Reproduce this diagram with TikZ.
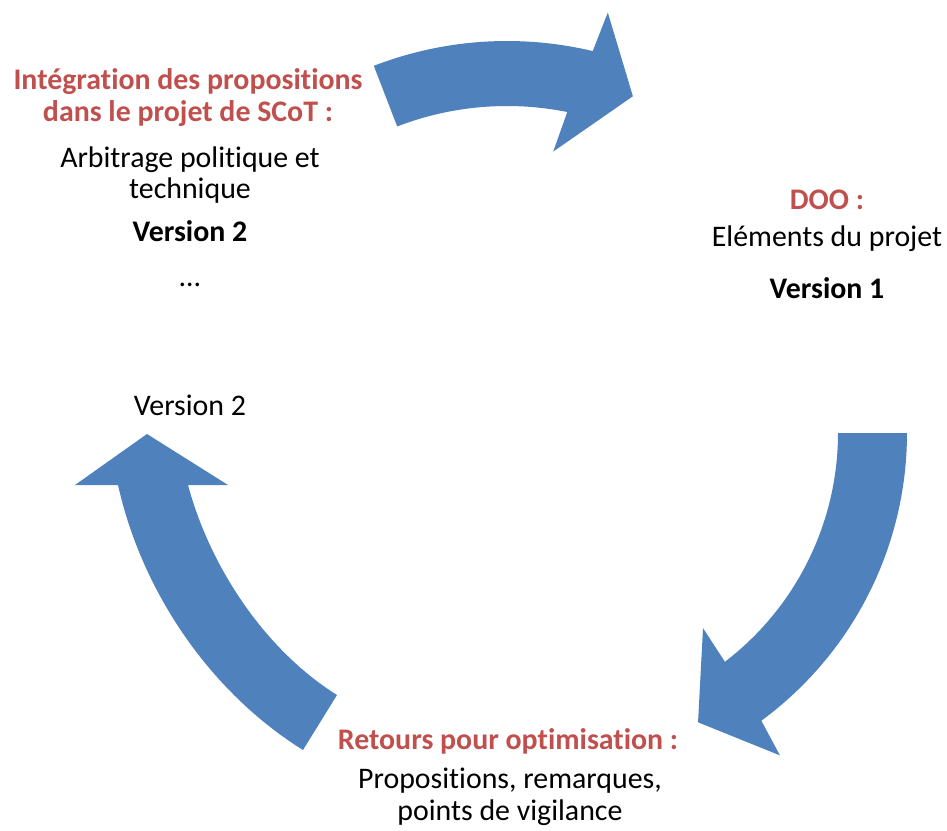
\documentclass[tikz,border=0pt]{standalone}
\usepackage{fontspec}
\setmainfont[Ligatures = NoCommon]{Carlito}
\definecolor{bleu}{HTML}{4F81BD}
\definecolor{rouge}{HTML}{C0504D}
\newcommand{\taille}{\fontsize{17pt}{20pt}\selectfont}

\begin{document}
\begin{tikzpicture}[x = 0.02cm, y = -0.02cm, fleche/.style = {fill = bleu},
	corps/.style = {anchor = base, inner sep = 0pt, font = \taille},
	gras/.style = {corps, font = \taille\bfseries},
	titre/.style = {gras, text = rouge}]
				\useasboundingbox (0,0) rectangle (947,831);
				\begin{scope}[shift = {(507,411)}]
					\fill[fleche] (248.9:305) -- (248.9:370) arc[start angle = 248.9, end angle = 283.4, radius = 370] -- (284.2:411) -- (291.8:339) -- (280.1:263.5) -- (281.4:305) arc[start angle = 281.4, end angle = 248.9, radius = 305] -- cycle;
				\end{scope}
				\begin{scope}[shift = {(550,433)}]
					\fill[fleche] (0:288) -- (0:357) arc[start angle = 0, end angle = 53.7, radius = 357] -- (54.5:396) -- (62.9:325) -- (51.9:248) -- (52.6:288) arc[start angle = 52.6, end angle = 0, radius = 288] -- cycle;
				\end{scope}
				\fill[fleche] (75,485) -- (147,434) -- (228,485) -- (188,485) .. controls (210,567) and (265,650) .. (337,695) -- (303,750) .. controls (210,692) and (142,592) .. (118,485) -- cycle;
				\node[titre] (integA) at (188,90) {Intégration des propositions};
				\node[titre] (integB) at (188,122) {dans le projet de SCoT :};
				\node[corps] (arbitA) at (190,168) {Arbitrage politique et};
				\node[corps] (arbitB) at (190,199) {technique};
				\node[gras] (versDeuxA) at (190,242) {Version 2};
				\node[corps] (suite) at (190,287) {…};
				\node[corps] (versDeuxB) at (190,415) {Version 2};
				\node[titre] (doo) at (827,210) {DOO :};
				\node[corps] (elements) at (827,247) {Eléments du projet};
				\node[gras] (versUn) at (827,298) {Version 1};
				\node[titre] (retours) at (508,749) {Retours pour optimisation :};
				\node[corps] (propsA) at (510,788) {Propositions, remarques,};
				\node[corps] (propsB) at (510,820) {points de vigilance};
			\end{tikzpicture}
\end{document}
